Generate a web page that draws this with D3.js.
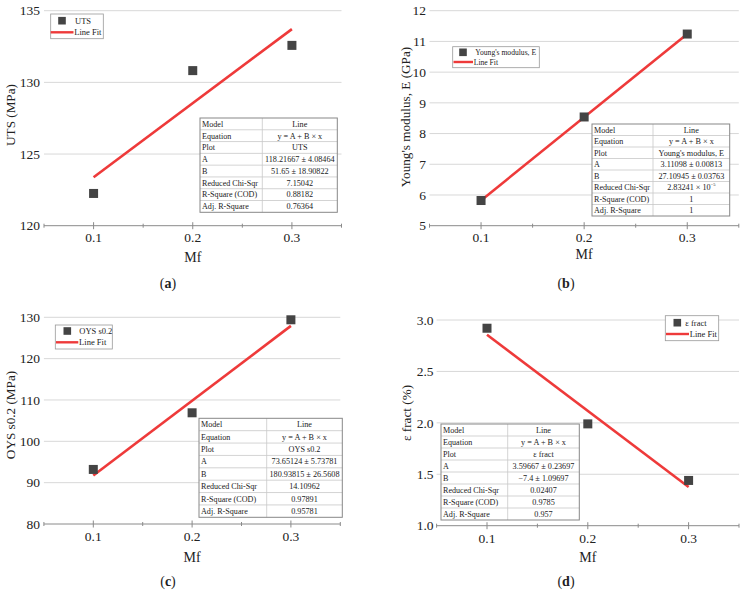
<!DOCTYPE html>
<html><head><meta charset="utf-8">
<script src="https://cdn.jsdelivr.net/npm/d3@7"></script>
<style>body{margin:0;background:#fff}svg{display:block}text{font-family:"Liberation Serif","DejaVu Serif",serif;fill:#222}</style>
</head><body>
<svg id="c" width="744" height="593"></svg>
<script>
// ---- data ----
const mf = [0.1, 0.2, 0.3];
const xTickMajor = [0.1, 0.2, 0.3];
const xTickAll = [0.05, 0.1, 0.15, 0.2, 0.25, 0.3, 0.35];
const utsValues = [122.25, 130.82, 132.58];
const youngValues = [5.82, 8.54, 11.24];
const oysValues = [93.2, 106.9, 129.4];
const fractValues = [2.92, 1.99, 1.44];
const utsTicks = [120, 125, 130, 135];
const youngTicks = [5, 6, 7, 8, 9, 10, 11, 12];
const oysTicks = [80, 90, 100, 110, 120, 130];
const fractTicks = [1.0, 1.5, 2.0, 2.5, 3.0];
const fitA = [118.21667, 3.11098, 73.65124, 3.59667];
const fitB = [51.65, 27.10945, 180.93815, -7.4];
const tableLabels = ["Model","Equation","Plot","A","B","Reduced Chi-Sqr","R-Square (COD)","Adj. R-Square"];
const utsTable = ["Line","y = A + B × x","UTS","118.21667 ± 4.08464","51.65 ± 18.90822","7.15042","0.88182","0.76364"];
const youngTable = ["Line","y = A + B × x","Young's modulus, E","3.11098 ± 0.00813","27.10945 ± 0.03763","2.83241 × 10|−5","1","1"];
const oysTable = ["Line","y = A + B × x","OYS s0.2","73.65124 ± 5.73781","180.93815 ± 26.5608","14.10962","0.97891","0.95781"];
const fractTable = ["Line","y = A + B × x","ε fract","3.59667 ± 0.23697","−7.4 ± 1.09697","0.02407","0.9785","0.957"];
const seriesNames = ["UTS","Young's modulus, E","OYS s0.2","ε fract"];
const yTitles = ["UTS (MPa)","Young's modulus, E (GPa)","OYS s0.2 (MPa)","ε fract (%)"];
const panelLetters = ["a","b","c","d"];

// ---- layout ----
const panels = [
 {vals:utsValues, ticks:utsTicks, fmt:d=>d, xr:[44,341.5], yr:[225.7,10.7], yd:[120,135], labX:40,
  xlabY:242, mfY:262, capX:168, capY:288, ytX:15, ytY:115,
  leg:{x:50.7,y:14,w:52.6,h:24.7,sq:[62,20.7],tx:75,lineY:32.3,lx:[50.7,73.5],fs:8.5},
  tab:{x:200,y:118,w:137.3,h:94.3,split:262.3,tbl:utsTable}},
 {vals:youngValues, ticks:youngTicks, fmt:d=>d, xr:[429.5,738.8], yr:[225.7,10.7], yd:[5,12], labX:426,
  xlabY:241.5, mfY:259, capX:566, capY:288, ytX:410, ytY:117,
  leg:{x:452.7,y:46.7,w:86.6,h:21,sq:[463,52.3],tx:475.3,lineY:62,lx:[453.5,473],fs:7.6},
  tab:{x:592,y:124,w:137.7,h:92,split:653,tbl:youngTable}},
 {vals:oysValues, ticks:oysTicks, fmt:d=>d, xr:[43.9,340.3], yr:[524,317.3], yd:[80,130], labX:40,
  xlabY:541, mfY:561.5, capX:168, capY:586, ytX:15, ytY:415,
  leg:{x:55.3,y:325,w:57,h:24,sq:[67.3,331],tx:79.3,lineY:342.3,lx:[56,78.3],fs:8.5},
  tab:{x:199,y:418.3,w:143.3,h:99,split:266.7,tbl:oysTable}},
 {vals:fractValues, ticks:fractTicks, fmt:d3.format(".1f"), xr:[436.6,739], yr:[525.7,320], yd:[1,3], labX:433.5,
  xlabY:543, mfY:562, capX:566, capY:586, ytX:411, ytY:413,
  leg:{x:665.3,y:315.7,w:53.4,h:25,sq:[677.3,322.7],tx:685.3,lineY:334,lx:[666,689],fs:8.5},
  tab:{x:441,y:424,w:138.3,h:96,split:507.7,tbl:fractTable}}
];

const svg = d3.select("#c");
const red = "#ee3a3a", mark = "#444";

panels.forEach((p,i)=>{
  const g = svg.append("g");
  const x = d3.scaleLinear().domain([0.05,0.35]).range(p.xr);
  const y = d3.scaleLinear().domain(p.yd).range(p.yr);
  g.selectAll("line.grid").data(p.ticks.slice(1)).join("line")
    .attr("x1",p.xr[0]).attr("x2",p.xr[1]).attr("y1",d=>y(d)).attr("y2",d=>y(d))
    .attr("stroke","#d8d8d8").attr("stroke-width",1);
  g.selectAll("text.yl").data(p.ticks).join("text")
    .attr("x",p.labX).attr("y",d=>y(d)).attr("dy","0.35em").attr("text-anchor","end")
    .attr("font-size",13.5).text(p.fmt);
  const yb = p.yr[0];
  g.append("line").attr("x1",p.xr[0]).attr("x2",p.xr[1]).attr("y1",yb).attr("y2",yb).attr("stroke","#8a8a8a");
  g.selectAll("line.xt").data(xTickAll).join("line")
    .attr("x1",d=>x(d)).attr("x2",d=>x(d))
    .attr("y1",d=>yb-(xTickMajor.includes(d)?3.5:2)).attr("y2",d=>yb+(xTickMajor.includes(d)?3.5:2))
    .attr("stroke","#8a8a8a");
  g.selectAll("text.xl").data(xTickMajor).join("text")
    .attr("x",d=>x(d)).attr("y",p.xlabY).attr("text-anchor","middle").attr("font-size",13.5).text(d=>d.toFixed(1));
  g.append("text").attr("x",x(0.2)).attr("y",p.mfY).attr("text-anchor","middle").attr("font-size",14).text("Mf");
  const cap = g.append("text").attr("x",p.capX).attr("y",p.capY).attr("text-anchor","middle").attr("font-size",14);
  cap.append("tspan").text("(");
  cap.append("tspan").attr("font-weight","bold").text(panelLetters[i]);
  cap.append("tspan").text(")");
  g.append("text").attr("transform",`translate(${p.ytX},${p.ytY}) rotate(-90)`).attr("text-anchor","middle")
    .attr("font-size",13.2).text(yTitles[i]);
  g.append("line").attr("x1",x(mf[0])).attr("x2",x(mf[2]))
    .attr("y1",y(fitA[i]+fitB[i]*mf[0])).attr("y2",y(fitA[i]+fitB[i]*mf[2]))
    .attr("stroke",red).attr("stroke-width",2.6);
  const s = 9;
  g.selectAll("rect.pt").data(p.vals).join("rect")
    .attr("x",(d,j)=>x(mf[j])-s/2).attr("y",d=>y(d)-s/2).attr("width",s).attr("height",s).attr("fill",mark);
  const L = p.leg;
  g.append("rect").attr("x",L.x).attr("y",L.y).attr("width",L.w).attr("height",L.h)
    .attr("fill","#fff").attr("stroke","#999").attr("stroke-width",0.8);
  g.append("rect").attr("x",L.sq[0]-3.8).attr("y",L.sq[1]-3.8).attr("width",7.6).attr("height",7.6).attr("fill",mark);
  g.append("text").attr("x",L.tx).attr("y",L.sq[1]).attr("dy","0.35em").attr("font-size",L.fs).text(seriesNames[i]);
  g.append("line").attr("x1",L.lx[0]).attr("x2",L.lx[1]).attr("y1",L.lineY).attr("y2",L.lineY)
    .attr("stroke",red).attr("stroke-width",2.4);
  g.append("text").attr("x",L.lx[1]+0.8).attr("y",L.lineY).attr("dy","0.35em").attr("font-size",L.fs).text("Line Fit");
  const T = p.tab, rh = T.h/8;
  const tg = g.append("g");
  tg.append("rect").attr("x",T.x).attr("y",T.y).attr("width",T.w).attr("height",T.h).attr("fill","#fff");
  tg.selectAll("line.rl").data(d3.range(1,8)).join("line")
    .attr("x1",T.x).attr("x2",T.x+T.w).attr("y1",k=>T.y+k*rh).attr("y2",k=>T.y+k*rh)
    .attr("stroke","#c8c8c8").attr("stroke-width",0.8);
  tg.append("line").attr("x1",T.split).attr("x2",T.split).attr("y1",T.y).attr("y2",T.y+T.h)
    .attr("stroke","#c8c8c8").attr("stroke-width",0.8);
  tg.append("rect").attr("x",T.x).attr("y",T.y).attr("width",T.w).attr("height",T.h)
    .attr("fill","none").attr("stroke","#888").attr("stroke-width",1);
  tg.selectAll("text.tl").data(tableLabels).join("text")
    .attr("x",T.x+2).attr("y",(d,k)=>T.y+(k+0.5)*rh).attr("dy","0.35em").attr("font-size",8.1).attr("fill","#333").text(d=>d);
  T.tbl.forEach((d,k)=>{
    const t = tg.append("text").attr("x",(T.split+T.x+T.w)/2).attr("y",T.y+(k+0.5)*rh).attr("dy","0.35em")
      .attr("text-anchor","middle").attr("font-size",8.2).attr("fill","#333");
    const parts = d.split("|");
    t.append("tspan").text(parts[0]);
    if (parts[1]) t.append("tspan").attr("font-size",4.5).attr("dy","-0.9em").text(parts[1]);
  });
});
</script>
</body></html>
